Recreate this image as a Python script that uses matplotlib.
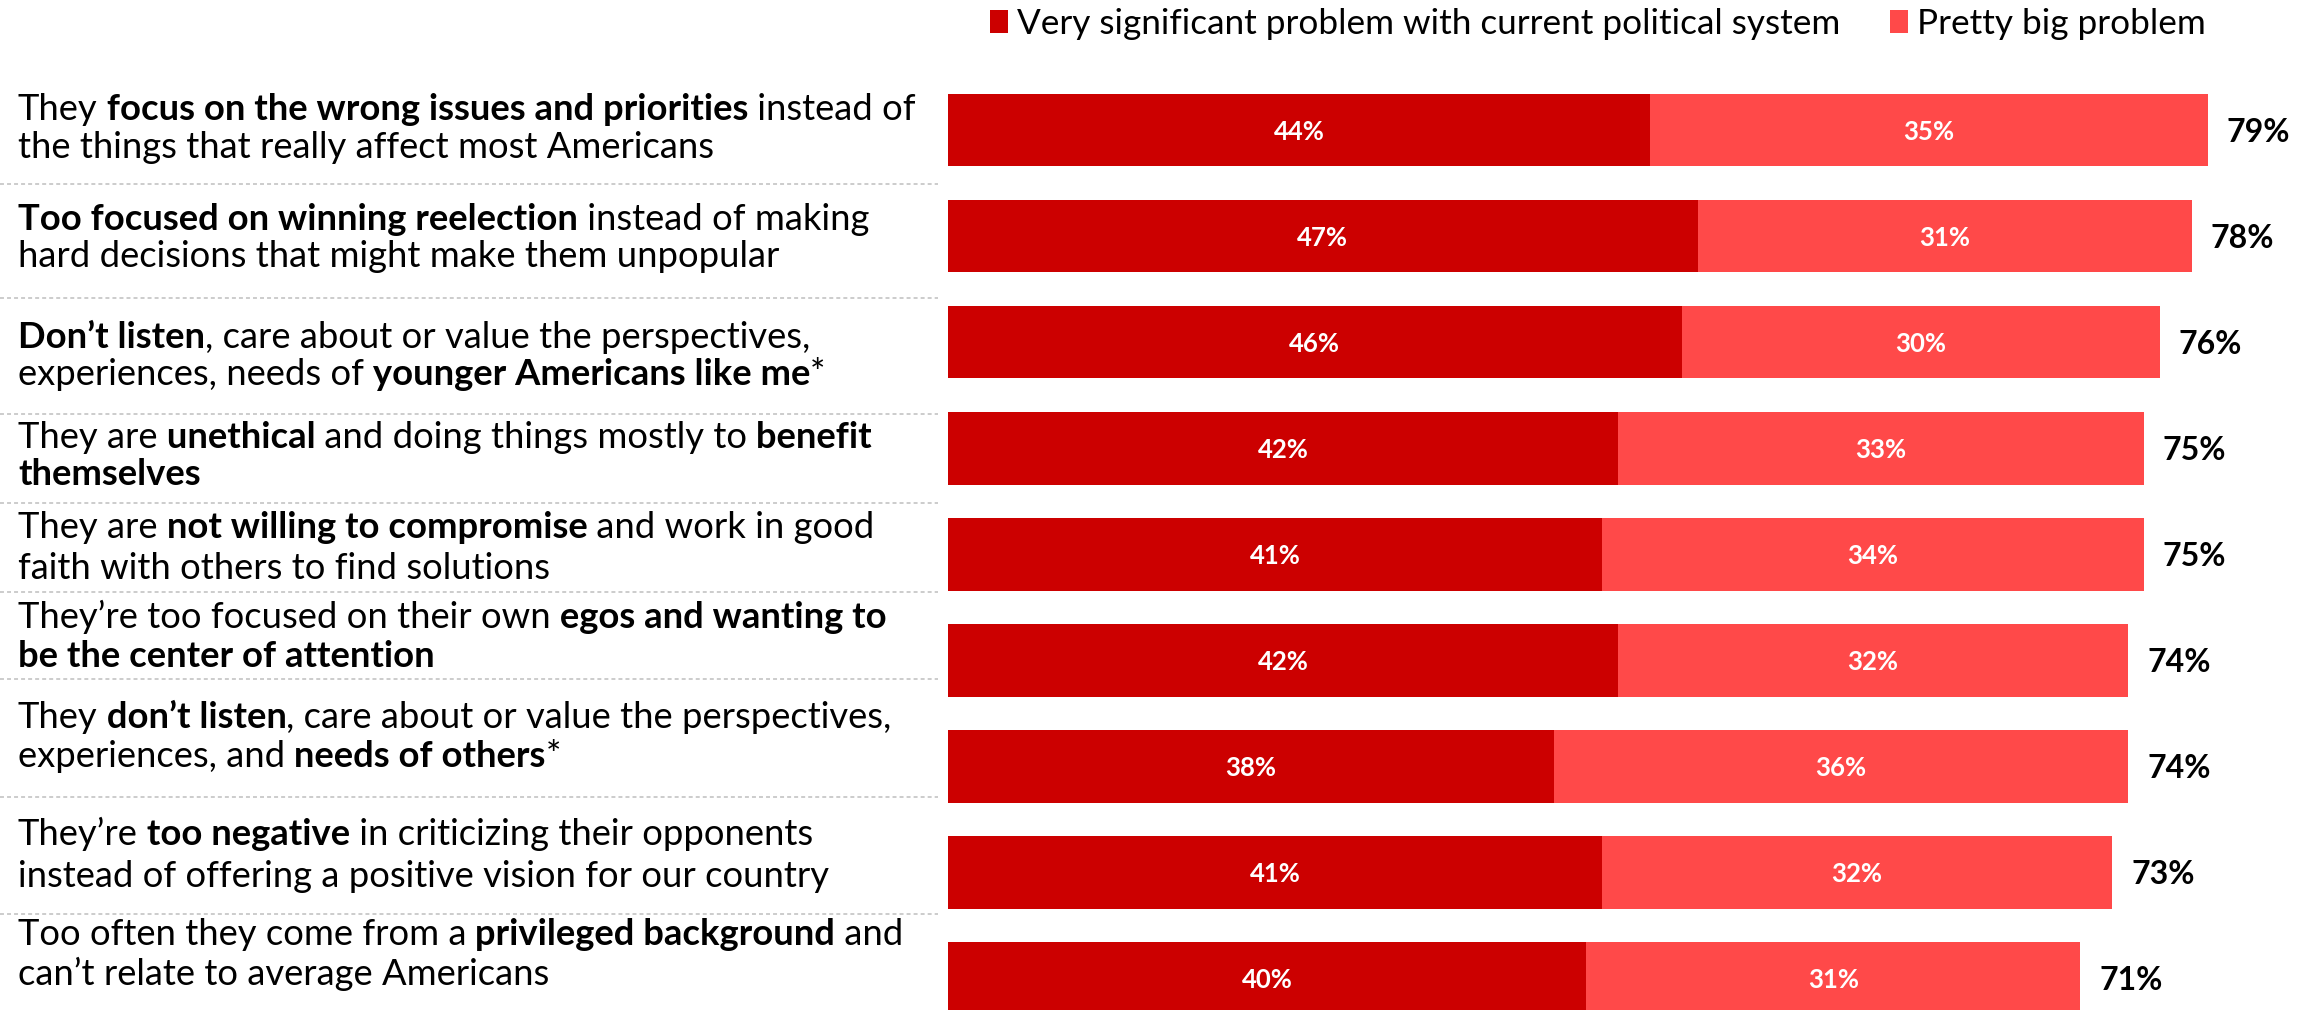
import matplotlib
matplotlib.use("Agg")
import matplotlib.pyplot as plt
from matplotlib.transforms import IdentityTransform
from matplotlib.font_manager import FontProperties
from matplotlib.lines import Line2D

# ---------------- data ----------------
very_significant = [44, 47, 46, 42, 41, 42, 38, 41, 40]
pretty_big = [35, 31, 30, 33, 34, 32, 36, 32, 31]
totals = [79, 78, 76, 75, 75, 74, 74, 73, 71]
series_names = ["Very significant problem with current political system",
                "Pretty big problem"]

# category labels: two lines each, segments of (text, bold)
categories = [
    [[("They", False), (" focus on the wrong issues and priorities", True), (" instead of", False)],
     [("the things that really affect most Americans", False)]],
    [[("Too focused on winning reelection", True), (" instead of making", False)],
     [("hard decisions that might make them unpopular", False)]],
    [[("Don\u2019t listen", True), (", care about or value the perspectives,", False)],
     [("experiences, needs of", False), (" younger Americans like me", True), ("*", False)]],
    [[("They are", False), (" unethical", True), (" and doing things mostly to", False), (" benefit", True)],
     [("themselves", True)]],
    [[("They are", False), (" not willing to compromise", True), (" and work in good", False)],
     [("faith with others to find solutions", False)]],
    [[("They\u2019re too focused on their own", False), (" egos and wanting to", True)],
     [("be the center of attention", True)]],
    [[("They", False), (" don\u2019t listen", True), (", care about or value the perspectives,", False)],
     [("experiences, and", False), (" needs of others", True), ("*", False)]],
    [[("They\u2019re", False), (" too negative", True), (" in criticizing their opponents", False)],
     [("instead of offering a positive vision for our country", False)]],
    [[("Too often they come from a", False), (" privileged background", True), (" and", False)],
     [("can\u2019t relate to average Americans", False)]],
]

# ---------------- layout / style ----------------
W, H, DPI = 2313, 1010, 100
FONT = ["Lato", "DejaVu Sans"]
DARK = "#CC0000"
LIGHT = "#FF4949"
SEP_COLOR = "#BFBFBF"
BAR_LEFT_PX = 948
PX_PER_PCT = 15.95
ROW0_PX = 130.0      # center of first bar from top
ROW_PX = 106.06      # row pitch
BAR_H = 0.685
LABEL_X = 18
LINE1_TARGET_W = 897  # width of first label line (px)
LEGEND_TARGET_W = 825  # width of first legend text (px)
# baseline offsets (px below bar centre) for the two label lines
line1_off = [-10, -6, 6, 0, -16, -32, -38, -27, -33]
line2_off = [28, 31, 43, 37, 25, 7, 1, 15, 7]
# separator positions in row units
sep_rows = [0.509, 1.584, 2.678, 3.517, 4.356, 5.176, 6.289, 7.392]
SEP_X_END = 938

plt.rcParams['font.family'] = FONT

fig = plt.figure(figsize=(W / DPI, H / DPI), dpi=DPI)
ax = fig.add_axes([BAR_LEFT_PX / W, 0, 1 - BAR_LEFT_PX / W, 1])
n = len(very_significant)
ypos = list(range(n))
b1 = ax.barh(ypos, very_significant, height=BAR_H, color=DARK, label=series_names[0])
b2 = ax.barh(ypos, pretty_big, left=very_significant, height=BAR_H, color=LIGHT,
             label=series_names[1])
ax.set_xlim(0, (W - BAR_LEFT_PX) / PX_PER_PCT)
ax.set_ylim((H - ROW0_PX) / ROW_PX, -ROW0_PX / ROW_PX)
ax.axis('off')

inbar_fp = FontProperties(family=FONT, weight='bold', size=18.5)
total_fp = FontProperties(family=FONT, weight='bold', size=23)
for i in range(n):
    v1, v2 = very_significant[i], pretty_big[i]
    ax.text(v1 / 2, i, f"{v1}%", ha='center', va='center_baseline', color='white',
            fontproperties=inbar_fp)
    ax.text(v1 + v2 / 2, i, f"{v2}%", ha='center', va='center_baseline', color='white',
            fontproperties=inbar_fp)
    ax.annotate(f"{totals[i]}%", xy=(v1 + v2, i), xytext=(13.5, 0),
                textcoords='offset points', ha='left', va='center_baseline',
                color='black', fontproperties=total_fp)

# ---------------- category labels with mixed bold ----------------
renderer = fig.canvas.get_renderer()


def fp(bold, size):
    return FontProperties(family=FONT, weight='bold' if bold else 'normal', size=size)


def text_w(t, prop):
    return renderer.get_text_width_height_descent(t, prop, ismath=False)[0]


def line_width(segs, size):
    return sum(text_w(t, fp(b, size)) for t, b in segs)


ref = 20.0
label_size = ref * LINE1_TARGET_W / line_width(categories[0][0], ref)
legend_size = ref * LEGEND_TARGET_W / text_w(series_names[0], fp(False, ref))

ident = IdentityTransform()
for i, (l1, l2) in enumerate(categories):
    yc = ax.transData.transform((0, i))[1]
    for segs, off in ((l1, line1_off[i]), (l2, line2_off[i])):
        x = LABEL_X
        yb = yc - off
        for t, b in segs:
            prop = fp(b, label_size)
            fig.text(x, yb, t, transform=ident, ha='left', va='baseline',
                     fontproperties=prop, color='black')
            x += text_w(t, prop)

for s in sep_rows:
    ys = ax.transData.transform((0, s))[1]
    fig.add_artist(Line2D([0, SEP_X_END], [ys, ys], transform=ident, color=SEP_COLOR,
                          lw=1.1, dashes=(2.6, 2.0)))

# ---------------- legend ----------------
fs_px = legend_size * DPI / 72
fig.legend(handles=[b1, b2], labels=series_names, loc='center left',
           bbox_to_anchor=(990 / W, 1 - 24 / H), ncol=2, frameon=False,
           prop=fp(False, legend_size), handlelength=18 / fs_px, handleheight=22 / fs_px,
           handletextpad=9 / fs_px, columnspacing=50 / fs_px, borderpad=0,
           borderaxespad=0)

fig.savefig("out.png", dpi=DPI)
